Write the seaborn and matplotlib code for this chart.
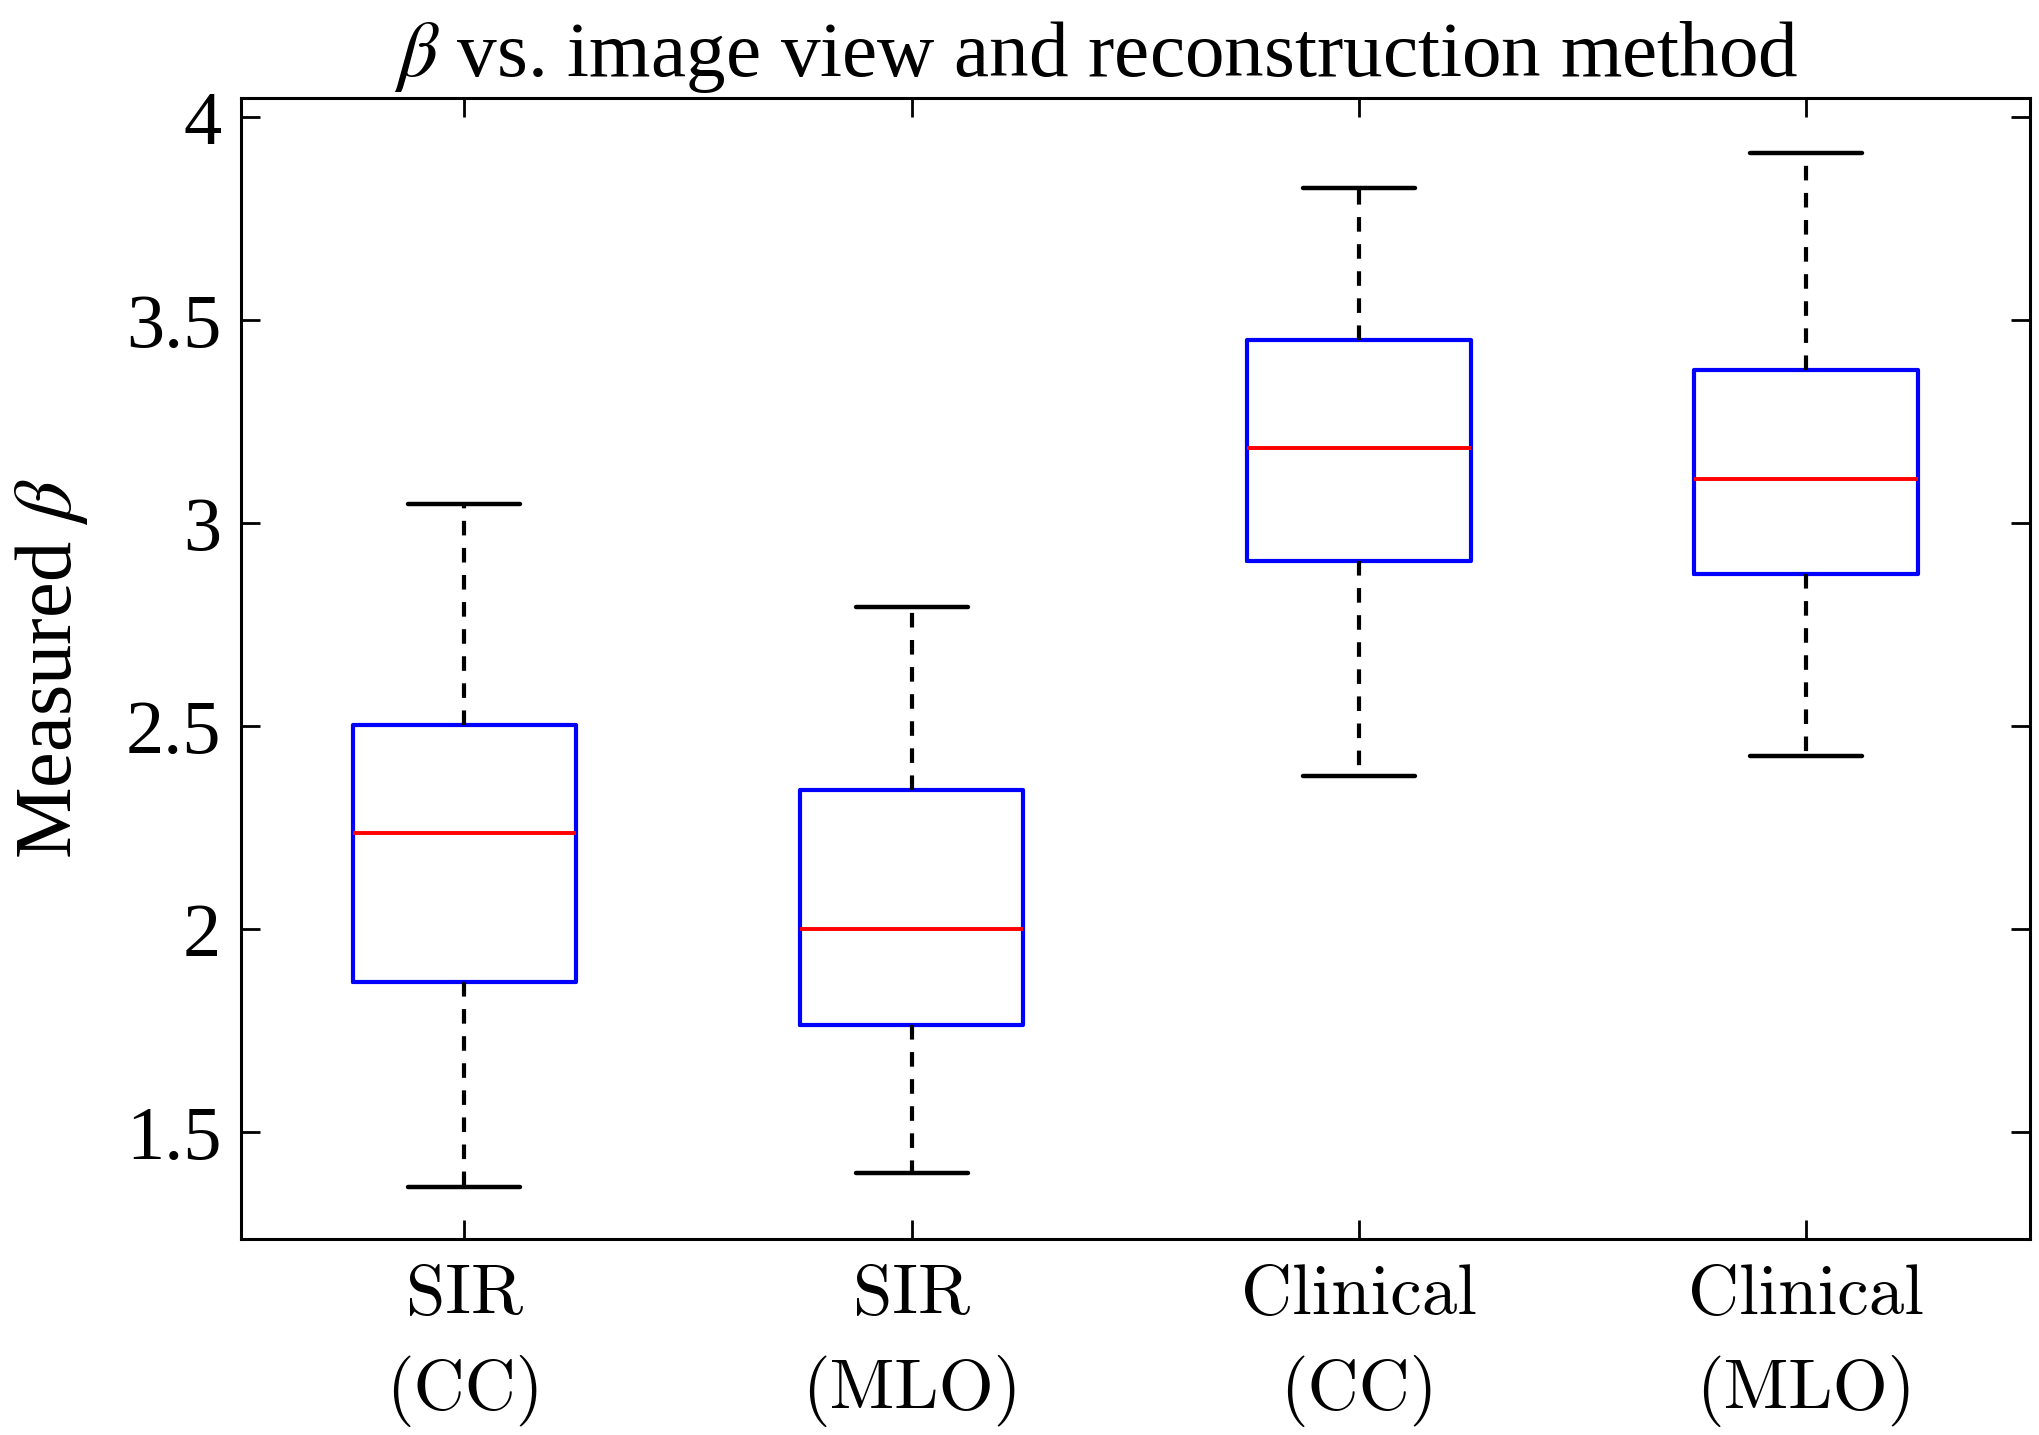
import matplotlib
matplotlib.use("Agg")
import matplotlib.pyplot as plt
import matplotlib.ticker as mticker
import seaborn as sns
import pandas as pd

# Five-number summaries (min, Q1, median, Q3, max)
groups = ["SIR\n(CC)", "SIR\n(MLO)", "Clinical\n(CC)", "Clinical\n(MLO)"]
lower_whisker = [1.365, 1.400, 2.378, 2.426]
q1 = [1.869, 1.763, 2.907, 2.875]
median = [2.237, 2.000, 3.186, 3.109]
q3 = [2.503, 2.343, 3.452, 3.378]
upper_whisker = [3.048, 2.795, 3.827, 3.913]
yticks = [1.5, 2, 2.5, 3, 3.5, 4]

rows = []
for i, g in enumerate(groups):
    for v in (lower_whisker[i], q1[i], median[i], q3[i], upper_whisker[i]):
        rows.append({"group": g, "beta": v})
df = pd.DataFrame(rows)

sns.set_style("white")
plt.rcParams["font.family"] = ["Liberation Serif", "DejaVu Serif"]
plt.rcParams["mathtext.fontset"] = "stix"
plt.rcParams["text.color"] = "black"
plt.rcParams["axes.labelcolor"] = "black"
plt.rcParams["xtick.color"] = "black"
plt.rcParams["ytick.color"] = "black"

fig = plt.figure(figsize=(20.4, 14.35), dpi=100)
ax = fig.add_axes([0.118, 0.1366, 0.877, 0.7951])

sns.boxplot(data=df, x="group", y="beta", order=groups, ax=ax, width=0.5,
            whis=(0, 100), fill=False, showfliers=False,
            boxprops=dict(color="blue", linewidth=3),
            medianprops=dict(color="red", linewidth=2.8),
            whiskerprops=dict(color="black", linestyle=(0, (3.5, 3)), linewidth=3),
            capprops=dict(color="black", linewidth=3.2))

ax.set_xlim(-0.5, 3.5)
ax.set_ylim(1.237, 4.048)
ax.set_yticks(yticks)
ax.yaxis.set_major_formatter(mticker.FormatStrFormatter("%g"))
ax.set_xlabel("")
ax.set_ylabel(r"Measured $\beta$", fontsize=58, labelpad=26)
ax.set_title(r"$\beta$ vs. image view and reconstruction method", fontsize=57,
             pad=16, x=0.478)

ax.tick_params(direction="in", length=14, width=2, top=True, right=True,
               left=True, bottom=True, labelsize=55, pad=14)
ax.tick_params(axis="x", pad=18)
for lbl in ax.get_xticklabels():
    lbl.set_fontfamily("cmr10")
    lbl.set_fontsize(51)
    lbl.set_linespacing(1.5)
for s in ax.spines.values():
    s.set_visible(True)
    s.set_linewidth(2.2)
    s.set_color("black")

fig.savefig("out.png", dpi=100)
